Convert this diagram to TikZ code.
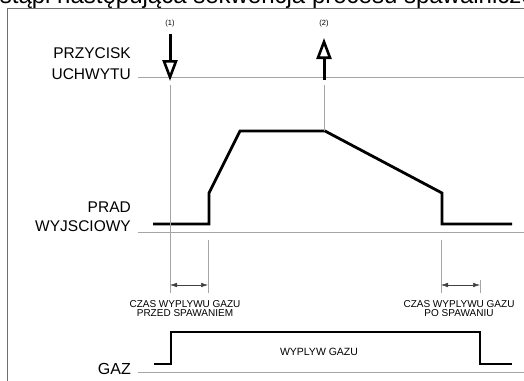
\documentclass[tikz,border=0pt]{standalone}
\usepackage{fontspec}
\setmainfont{Liberation Sans}
\usetikzlibrary{arrows.meta, positioning}
\definecolor{cGuide}{RGB}{165,165,165}
\definecolor{cFrame}{RGB}{110,110,110}
\tikzset{
	guide/.style   ={cGuide, line width=0.8pt},
	signal/.style  ={black, line width=2.8pt},
	axislbl/.style ={anchor=east, align=right, inner sep=0pt, font=\fontsize{15.5}{20.5}\selectfont},
	notelbl/.style ={align=center, inner sep=0pt, font=\fontsize{10}{9.5}\selectfont},
	trig/.style    ={line width=3pt, -{Triangle[open, length=21pt, width=15pt, line width=2.6pt]}},
	dimarrow/.style={black!75, line width=0.5pt, {Latex[length=7pt, width=4.5pt]}-{Latex[length=7pt, width=4.5pt]}},
}

\begin{document}
\begin{tikzpicture}[x=1pt, y=-1pt]
	\useasboundingbox (0,0) rectangle (524,380);
	% cut heading and frame
	\node[anchor=base west, inner sep=0pt, font=\fontsize{24}{28}\selectfont] (title) at (-27,3) {nastąpi następująca sekwencja procesu spawalniczego};
	\draw[cFrame, line width=0.8pt] (7,390) -- (7,8) -- (530,8);
	% torch button
	\node[axislbl] (btn) at (131,63.5) {PRZYCISK\\UCHWYTU};
	\draw[guide] (138,77) -- (530,77);
	\node[font=\fontsize{7.5}{9}\selectfont, inner sep=0pt] (l1) at (170,24) {(1)};
	\node[font=\fontsize{7.5}{9}\selectfont, inner sep=0pt] (l2) at (324,24) {(2)};
	\coordinate (p1) at (170,34);
	\coordinate (q1) at (170,81);
	\coordinate (p2) at (324,80);
	\coordinate (q2) at (324,38);
	\draw[trig] (p1) -- (q1);
	\draw[trig] (p2) -- (q2);
	% output current
	\node[axislbl, font=\fontsize{15.5}{18.5}\selectfont] (cur) at (131,216.5) {PRAD\\WYJSCIOWY};
	\draw[guide] (138,232) -- (530,232);
	\draw[signal] (153,224) -- (209,224) -- (209,193) -- (240,131) -- (325,131) -- (442,193) -- (442,224) -- (512,224);
	% time markers
	\draw[guide] (170,85) -- (170,293);
	\draw[guide] (324,85) -- (324,131);
	\draw[guide] (208,240) -- (208,293);
	\draw[guide] (441,240) -- (441,293);
	\draw[guide] (480,280) -- (480,293);
	\coordinate (d1) at (170,285);
	\coordinate (d2) at (208,285);
	\coordinate (d3) at (441,285);
	\coordinate (d4) at (480,285);
	\draw[dimarrow] (d1) -- (d2);
	\draw[dimarrow] (d3) -- (d4);
	\node[notelbl] (pre) at (185,308.5) {CZAS WYPLYWU GAZU\\PRZED SPAWANIEM};
	\node[notelbl] (post) at (459,308.5) {CZAS WYPLYWU GAZU\\PO SPAWANIU};
	% gas
	\node[axislbl, font=\fontsize{16}{18}\selectfont] (gas) at (131,369) {GAZ};
	\draw[guide] (138,372) -- (530,372);
	\draw[signal] (154,364) -- (171,364) -- (171,332) -- (480,332) -- (480,364) -- (512,364);
	\node[notelbl, font=\fontsize{10.5}{12}\selectfont] (flow) at (319,352) {WYPLYW GAZU};
\end{tikzpicture}
\end{document}
